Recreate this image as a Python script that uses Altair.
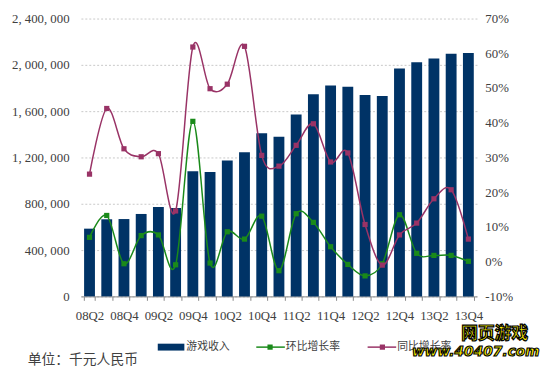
import altair as alt
import pandas as pd

quarters = ["08Q2", "08Q3", "08Q4", "09Q1", "09Q2", "09Q3", "09Q4", "10Q1", "10Q2", "10Q3",
            "10Q4", "11Q1", "11Q2", "11Q3", "11Q4", "12Q1", "12Q2", "12Q3", "12Q4", "13Q1",
            "13Q2", "13Q3", "13Q4"]
revenue = [585000, 666000, 668000, 712000, 772000, 763000, 1081000, 1075000, 1174000, 1245000,
           1410000, 1379000, 1572000, 1747000, 1821000, 1810000, 1739000, 1730000, 1969000, 2023000,
           2054000, 2096000, 2102000]
qoq = [7.0, 13.3, -0.6, 7.5, 7.7, -0.9, 40.4, -0.4, 8.6, 6.5,
       13.1, -2.6, 13.8, 11.3, 4.3, -0.8, -4.1, -0.6, 13.5, 2.4,
       1.8, 1.8, 0.1]
yoy = [25.2, 44.1, 32.5, 30.2, 31.1, 14.6, 61.8, 49.8, 51.1, 62.0,
       30.6, 27.5, 33.5, 39.7, 28.7, 31.3, 10.7, -1.0, 7.7, 11.1,
       18.1, 20.7, 6.5]
left_ticks = [0, 400000, 800000, 1200000, 1600000, 2000000, 2400000]
right_ticks = [-10, 0, 10, 20, 30, 40, 50, 60, 70]
legend_labels = ["游戏收入", "环比增长率", "同比增长率"]
unit_label = "单位：千元人民币"
watermark = ["网页游戏", "www.40407.com"]

NAVY = "#003366"
GREEN = "#1a8a1a"
PLUM = "#993366"
serif = "Liberation Serif"
cjk = "Noto Sans CJK SC"
lab = "#404040"

df = pd.DataFrame({"quarter": quarters, "revenue": revenue, "qoq": qoq, "yoy": yoy})

x_enc = alt.X(
    "quarter:N", sort=quarters,
    scale=alt.Scale(paddingInner=0.37, paddingOuter=0.185),
    axis=alt.Axis(
        title=None, labelAngle=0, labelOverlap=False,
        labelExpr="test(regexp('Q[24]$'), datum.label) ? datum.label : ''",
        tickBand="extent", ticks=True, tickSize=4, tickColor="#888888",
        domainColor="#888888", labelFont=serif, labelFontSize=13, labelColor=lab,
        labelPadding=9, grid=False,
    ),
)

bars = alt.Chart(df).mark_bar(color=NAVY).encode(
    x=x_enc,
    y=alt.Y(
        "revenue:Q", scale=alt.Scale(domain=[0, 2400000], nice=False),
        axis=alt.Axis(
            title=None, values=left_ticks,
            labelExpr="replace(format(datum.value, ','), regexp(',', 'g'), ', ')",
            domain=False, ticks=False, grid=True, gridDash=[2, 2], gridColor="#c8c8c8",
            labelFont=serif, labelFontSize=13, labelColor=lab, labelPadding=12,
        ),
    ),
)

yr_axis = alt.Axis(
    title=None, orient="right", values=right_ticks, labelExpr="datum.value + '%'",
    domain=False, ticks=False, grid=False, labelFont=serif, labelFontSize=13,
    labelColor=lab, labelPadding=8,
)
yscale = alt.Scale(domain=[-10, 70], nice=False)

base = alt.Chart(df).encode(x=alt.X("quarter:N", sort=quarters))
qoq_line = base.mark_line(interpolate="cardinal", color=GREEN, strokeWidth=1.5).encode(
    y=alt.Y("qoq:Q", scale=yscale, axis=yr_axis))
qoq_pts = base.mark_point(shape="square", filled=True, size=28, color=GREEN, opacity=1).encode(
    y=alt.Y("qoq:Q", scale=yscale, axis=yr_axis))
yoy_line = base.mark_line(interpolate="cardinal", color=PLUM, strokeWidth=1.5).encode(
    y=alt.Y("yoy:Q", scale=yscale, axis=yr_axis))
yoy_pts = base.mark_point(shape="square", filled=True, size=28, color=PLUM, opacity=1).encode(
    y=alt.Y("yoy:Q", scale=yscale, axis=yr_axis))

lines = alt.layer(qoq_line, qoq_pts, yoy_line, yoy_pts)

one = pd.DataFrame({"k": [0]})
leg = []
leg.append(alt.Chart(one).mark_rect(color=NAVY).encode(
    x=alt.value(78), x2=alt.value(105), y=alt.value(330), y2=alt.value(337)))
for (x0, x1, xm, col) in [(178, 207, 192, GREEN), (291, 320, 306, PLUM)]:
    leg.append(alt.Chart(one).mark_rule(color=col, strokeWidth=1.5).encode(
        x=alt.value(x0), x2=alt.value(x1), y=alt.value(333.5)))
    leg.append(alt.Chart(one).mark_point(shape="square", filled=True, size=28, color=col, opacity=1).encode(
        x=alt.value(xm), y=alt.value(333.5)))
for (xt, t) in zip([107, 208, 321], legend_labels):
    leg.append(alt.Chart(pd.DataFrame({"t": [t]})).mark_text(
        align="left", baseline="middle", font=cjk, fontSize=11, color=lab).encode(
        x=alt.value(xt), y=alt.value(333), text="t:N"))
leg.append(alt.Chart(pd.DataFrame({"t": [unit_label]})).mark_text(
    align="left", baseline="middle", font=cjk, fontSize=14, color=lab).encode(
    x=alt.value(-54), y=alt.value(347), text="t:N"))

# watermark
leg.append(alt.Chart(pd.DataFrame({"t": [watermark[0]]})).mark_text(
    align="left", baseline="middle", font=cjk, fontSize=17, fontWeight="bold",
    color="#fff200", stroke="#000000", strokeWidth=1.2).encode(
    x=alt.value(386), y=alt.value(320), text="t:N"))
leg.append(alt.Chart(pd.DataFrame({"t": [watermark[1]]})).mark_text(
    align="left", baseline="middle", font="DejaVu Sans", fontSize=14, fontWeight="bold",
    fontStyle="italic", color="#fff200", stroke="#000000", strokeWidth=1.1).encode(
    x=alt.value(336), y=alt.value(339), text="t:N"))

chart = alt.layer(bars, lines, *leg).resolve_scale(y="independent").properties(
    width=402, height=282,
    padding={"left": 74, "top": 8, "right": 66, "bottom": 71},
    autosize="none",
).configure_view(stroke=None)

chart.save("out.html", embed_options={"renderer": "svg", "actions": False})
